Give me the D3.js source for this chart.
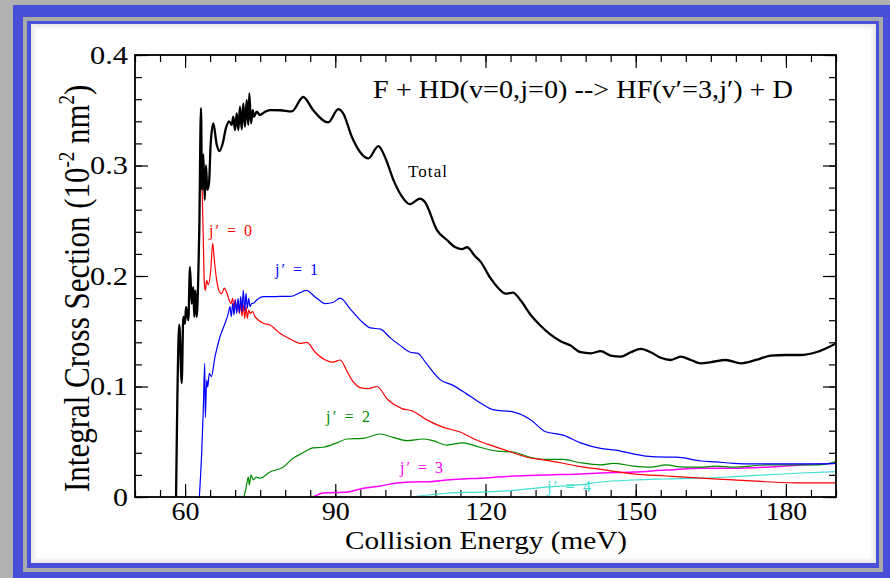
<!DOCTYPE html>
<html>
<head>
<meta charset="utf-8">
<script src="https://cdn.jsdelivr.net/npm/d3@7"></script>
<style>
  html, body { margin: 0; padding: 0; background: #b1b1b1; }
  svg { display: block; }
  text { font-family: "Liberation Serif", "Times New Roman", "DejaVu Serif", serif; }
</style>
</head>
<body>
<svg id="chart" width="890" height="578"></svg>
<script>
// ---------- data ----------
const xTicksMajor = [60, 90, 120, 150, 180];
const yTicksMajor = [0, 0.1, 0.2, 0.3, 0.4];
const yTickLabels = ["0", "0.1", "0.2", "0.3", "0.4"];

const total = [
  [58.2,0],[58.85,0.156],[59.33,0.103],[59.65,0.163],[59.99,0.157],[60.19,0.172],[60.65,0.16],
  [60.98,0.208],[61.32,0.175],[61.64,0.19],[61.84,0.163],[62.04,0.187],[62.32,0.163],[62.64,0.2],
  [62.84,0.242],[63.18,0.352],[63.38,0.278],[63.64,0.31],[63.92,0.269],[64.18,0.3],[64.44,0.278],
  [64.78,0.284],[65.12,0.32],[65.64,0.338],[66.32,0.319],[66.84,0.313],[67.52,0.32],[68.17,0.334],
  [68.83,0.34],[69.31,0.3367],[69.63,0.3441],[69.97,0.3321],[70.31,0.3472],[70.63,0.3321],
  [70.97,0.3532],[71.31,0.3327],[71.63,0.3562],[71.97,0.3351],[72.31,0.3593],[72.63,0.3367],
  [72.83,0.3653],[73.17,0.3382],[73.51,0.3502],[73.77,0.3441],[74.31,0.3487],[74.97,0.3457],
  [75.96,0.3487],[76.96,0.3502],[79,0.350],[81.3,0.349],[83.6,0.362],[85.6,0.350],[88.6,0.339],
  [90.6,0.351],[91.6,0.347],[93.3,0.326],[94.9,0.3125],[96.6,0.3065],[98.6,0.3176],[99.9,0.308],
  [101.6,0.287],[103.3,0.272],[104.9,0.265],[106.9,0.270],[107.9,0.267],[110.3,0.2416],
  [112.3,0.2326],[114,0.226],[115.3,0.2244],[116.3,0.226],[117.9,0.218],[119,0.213],[121,0.198],
  [123,0.187],[124,0.184],[125.5,0.185],[127,0.178],[129,0.165],[131,0.155],[133,0.147],
  [135,0.141],[137,0.137],[139,0.131],[141,0.130],[143,0.132],[145,0.128],[147,0.127],[149,0.131],
  [151,0.134],[153,0.131],[155,0.126],[157,0.124],[159,0.127],[161,0.124],[163,0.121],[165,0.122],
  [168,0.124],[171,0.121],[174,0.124],[177,0.128],[180,0.1285],[183,0.1285],[186,0.131],[190,0.139]
];

const j0 = [
  [63.2,0.30],[63.44,0.272],[63.64,0.233],[63.84,0.194],[64.04,0.187],[64.32,0.196],[64.64,0.192],
  [65.12,0.205],[65.52,0.2296],[65.84,0.2145],[66.32,0.196],[66.84,0.186],[67.32,0.184],[67.84,0.189],
  [68.31,0.185],[68.83,0.178],[69.17,0.175],[69.51,0.1798],[69.77,0.1708],[70.03,0.1789],[70.31,0.1677],
  [70.57,0.1783],[70.83,0.1662],[71.11,0.1753],[71.37,0.1638],[71.63,0.1738],[71.91,0.1617],
  [72.17,0.1722],[72.43,0.1617],[72.71,0.1692],[72.97,0.1662],[73.51,0.1677],[73.97,0.1632],
  [74.63,0.1602],[75.63,0.1572],[76.96,0.1557],[79,0.148],[81,0.143],[83,0.139],[84.3,0.140],
  [86,0.131],[88,0.124],[89.5,0.122],[91,0.124],[92.3,0.114],[93.3,0.106],[95,0.099],[96.5,0.098],
  [98.3,0.100],[100.5,0.088],[103.3,0.080],[105.3,0.078],[108.2,0.070],[111.6,0.063],[114.8,0.059],
  [118.2,0.0516],[121.6,0.046],[124.9,0.041],[128.3,0.036],[131.7,0.0335],[134.9,0.031],[138.3,0.028],
  [143,0.025],[149.5,0.021],[156,0.019],[163,0.017],[169.5,0.0155],[176,0.0138],[183,0.0127],[190,0.0127]
];

const j1 = [
  [62.85,0],[63.32,0.04],[63.64,0.079],[63.92,0.121],[64.04,0.072],[64.32,0.106],[64.52,0.0995],
  [64.84,0.112],[65.24,0.109],[65.98,0.127],[66.98,0.145],[67.97,0.157],[68.63,0.166],[68.97,0.1722],
  [69.23,0.1632],[69.51,0.1753],[69.77,0.1647],[70.03,0.1783],[70.31,0.1662],[70.57,0.1798],
  [70.83,0.1668],[71.11,0.1813],[71.37,0.1677],[71.63,0.1873],[71.91,0.1686],[72.17,0.1843],
  [72.43,0.1708],[72.71,0.1798],[72.97,0.1722],[73.31,0.1753],[73.63,0.1753],[74.31,0.1783],
  [75.63,0.1813],[76.96,0.1813],[79,0.1815],[81,0.1815],[83,0.185],[84.2,0.187],[86,0.181],
  [88,0.175],[89.5,0.176],[91,0.180],[93,0.170],[95,0.160],[97,0.153],[99,0.152],[101,0.144],
  [103,0.137],[105,0.131],[106.5,0.130],[108,0.122],[111,0.106],[113.5,0.101],[116,0.094],
  [119,0.085],[121.5,0.079],[125.5,0.077],[129,0.070],[132,0.059],[135.5,0.056],[139,0.049],
  [143,0.044],[146,0.0425],[149.5,0.039],[152,0.037],[156,0.036],[158,0.036],[163,0.0326],
  [166,0.0317],[169.5,0.0305],[173.5,0.030],[180,0.030],[186.5,0.030],[190,0.0305]
];

const j2 = [
  [71.77,0],[72.17,0.008],[72.63,0.018],[72.83,0.011],[73.17,0.02],[73.63,0.0154],[74.17,0.018],
  [74.97,0.017],[76.96,0.0226],[79.56,0.027],[81.56,0.035],[83.55,0.04],[85.55,0.0445],[87.55,0.045],
  [90.34,0.049],[92.34,0.0525],[95.54,0.053],[98.93,0.057],[101.53,0.054],[104.32,0.051],
  [107.52,0.0525],[109.52,0.051],[112.31,0.047],[115.51,0.049],[118.9,0.045],[122.3,0.0415],
  [125.5,0.0407],[128.9,0.036],[132.3,0.034],[135.5,0.034],[138.9,0.031],[143,0.029],[145.5,0.0305],
  [149.5,0.028],[153,0.027],[156,0.029],[159.5,0.027],[163,0.027],[166,0.028],[169.5,0.027],
  [176,0.029],[183,0.029],[186.5,0.029],[190,0.032]
];

const j3 = [
  [85.6,0],[87.6,0.0036],[92.3,0.0045],[95.6,0.008],[99,0.01],[102.3,0.0127],[105.6,0.0136],
  [108.9,0.0139],[112.3,0.0154],[115.5,0.0163],[118.9,0.017],[122.3,0.018],[125.5,0.019],
  [132.3,0.02],[138.9,0.0208],[143,0.0217],[149.5,0.0226],[156,0.0244],[163,0.026],[169.5,0.026],
  [176,0.027],[183,0.029],[190,0.0305]
];

const j4 = [
  [104.9,0],[112.3,0.0034],[119,0.0045],[125.5,0.006],[132.3,0.009],[138.9,0.011],[143,0.0136],
  [149.5,0.0154],[156,0.0163],[163,0.017],[169.5,0.0184],[176,0.02],[183,0.0217],[190,0.023]
];

const seriesLabels = ["Total", "j\u2032 = 0", "j\u2032 = 1", "j\u2032 = 2", "j\u2032 = 3", "j\u2032 = 4"];
const titleText = "F + HD(v=0,j=0) --> HF(v\u2032=3,j\u2032) + D";

// ---------- drawing ----------
const svg = d3.select("#chart");
const BLUE = "#4a4fd7";
const SERIF = '"Liberation Serif", "Times New Roman", serif';

// frame
svg.append("rect").attr("x", 0).attr("y", 0).attr("width", 890).attr("height", 578).attr("fill", "#b1b1b1");
svg.append("rect").attr("x", 13).attr("y", 5).attr("width", 877).attr("height", 573).attr("fill", BLUE);
svg.append("rect").attr("x", 23).attr("y", 17).attr("width", 860).attr("height", 555).attr("fill", "#a9a9a9");
svg.append("rect").attr("x", 27).attr("y", 21).attr("width", 852).attr("height", 547).attr("fill", BLUE);
svg.append("rect").attr("x", 31).attr("y", 24).attr("width", 845).attr("height", 539).attr("fill", "#ffffff");
for (let i = 0; i < 6; i++) {
  svg.append("rect")
    .attr("x", 31.5 + i).attr("y", 24.5 + i)
    .attr("width", 844 - 2 * i).attr("height", 538 - 2 * i)
    .attr("fill", "none").attr("stroke", "#707070")
    .attr("stroke-opacity", 0.16 - i * 0.027);
}

const x = d3.scaleLinear().domain([50, 190]).range([135, 836]);
const y = d3.scaleLinear().domain([0, 0.4]).range([497, 55]);

svg.append("defs").append("clipPath").attr("id", "plotclip")
  .append("rect").attr("x", 135).attr("y", 55).attr("width", 701).attr("height", 442);

const minorX = d3.range(50, 191, 5);
const minorY = d3.range(0, 0.401, 0.02);

function styleAxis(g) {
  g.select(".domain").remove();
  g.selectAll(".tick line").attr("stroke", "#000").attr("stroke-width", 1.2);
  g.selectAll(".tick text").attr("fill", "#000").style("font-size", "26px")
    .style("font-family", SERIF).attr("lengthAdjust", "spacingAndGlyphs");
}

// bottom
svg.append("g").attr("transform", "translate(0,497)")
  .call(d3.axisBottom(x).tickValues(minorX).tickSize(-7).tickFormat(""))
  .call(styleAxis);
svg.append("g").attr("transform", "translate(0,497)")
  .call(d3.axisBottom(x).tickValues(xTicksMajor).tickSize(-13).tickPadding(5).tickFormat(d3.format("d")))
  .call(styleAxis)
  .call(g => g.selectAll(".tick text").attr("textLength", d => String(d).length === 3 ? 41.5 : 28));
// top
svg.append("g").attr("transform", "translate(0,55)")
  .call(d3.axisTop(x).tickValues(minorX).tickSize(-7).tickFormat(""))
  .call(styleAxis);
svg.append("g").attr("transform", "translate(0,55)")
  .call(d3.axisTop(x).tickValues(xTicksMajor).tickSize(-13).tickFormat(""))
  .call(styleAxis);
// left
svg.append("g").attr("transform", "translate(135,0)")
  .call(d3.axisLeft(y).tickValues(minorY).tickSize(-7).tickFormat(""))
  .call(styleAxis);
svg.append("g").attr("transform", "translate(135,0)")
  .call(d3.axisLeft(y).tickValues(yTicksMajor).tickSize(-13).tickPadding(7)
    .tickFormat((d, i) => yTickLabels[i]))
  .call(styleAxis)
  .call(g => g.selectAll(".tick text").attr("textLength", d => d === 0 ? 15 : 38));
// right
svg.append("g").attr("transform", "translate(836,0)")
  .call(d3.axisRight(y).tickValues(minorY).tickSize(-7).tickFormat(""))
  .call(styleAxis);
svg.append("g").attr("transform", "translate(836,0)")
  .call(d3.axisRight(y).tickValues(yTicksMajor).tickSize(-13).tickFormat(""))
  .call(styleAxis);

// curves
const line = d3.line().x(d => x(d[0])).y(d => y(d[1])).curve(d3.curveMonotoneX);
const plot = svg.append("g").attr("clip-path", "url(#plotclip)");
const curves = [
  { data: j4, color: "#40e0d0", w: 1.2 },
  { data: j3, color: "#ff00ff", w: 1.5 },
  { data: j2, color: "#008b00", w: 1.2 },
  { data: j0, color: "#ff0000", w: 1.2 },
  { data: j1, color: "#0000ff", w: 1.2 },
  { data: total, color: "#000000", w: 2.3 }
];
curves.forEach(c => {
  plot.append("path").attr("d", line(c.data)).attr("fill", "none")
    .attr("stroke", c.color).attr("stroke-width", c.w).attr("stroke-linejoin", "round");
});

// plot frame
svg.append("rect").attr("x", 135).attr("y", 55).attr("width", 701).attr("height", 442)
  .attr("fill", "none").attr("stroke", "#000").attr("stroke-width", 1.8);

// curve labels
const labelSpecs = [
  { t: seriesLabels[0], x: 408, y: 177, c: "#000000", w: 39, s: 17 },
  { t: seriesLabels[1], x: 209, y: 236, c: "#ff0000", w: 43, s: 16 },
  { t: seriesLabels[2], x: 275, y: 275, c: "#0000ff", w: 43, s: 16 },
  { t: seriesLabels[3], x: 326, y: 422, c: "#008b00", w: 44, s: 16 },
  { t: seriesLabels[4], x: 400, y: 473, c: "#ff00ff", w: 43, s: 16 },
  { t: seriesLabels[5], x: 547, y: 492, c: "#40e0d0", w: 44, s: 16 }
];
labelSpecs.forEach(l => {
  svg.append("text").attr("x", l.x).attr("y", l.y).attr("fill", l.c)
    .style("font-size", l.s + "px").attr("textLength", l.w).attr("lengthAdjust", "spacing")
    .text(l.t);
});

// title
svg.append("text").attr("x", 373).attr("y", 97.5).attr("fill", "#000")
  .style("font-size", "25px").attr("textLength", 420).attr("lengthAdjust", "spacingAndGlyphs")
  .text(titleText);

// x axis title
svg.append("text").attr("x", 345).attr("y", 549).attr("fill", "#000")
  .style("font-size", "25px").attr("textLength", 282).attr("lengthAdjust", "spacingAndGlyphs")
  .text("Collision Energy (meV)");

// y axis title
const yt = svg.append("text").attr("transform", "translate(89,492) scale(1.18,1) rotate(-90)")
  .attr("x", 0).attr("y", 0).attr("fill", "#000").style("font-size", "31px");
yt.append("tspan").text("Integral Cross Section (10");
yt.append("tspan").attr("dy", -13).style("font-size", "19px").text("-2");
yt.append("tspan").attr("dy", 13).text(" nm");
yt.append("tspan").attr("dy", -13).style("font-size", "19px").text("2");
yt.append("tspan").attr("dy", 13).text(")");
</script>
</body>
</html>
